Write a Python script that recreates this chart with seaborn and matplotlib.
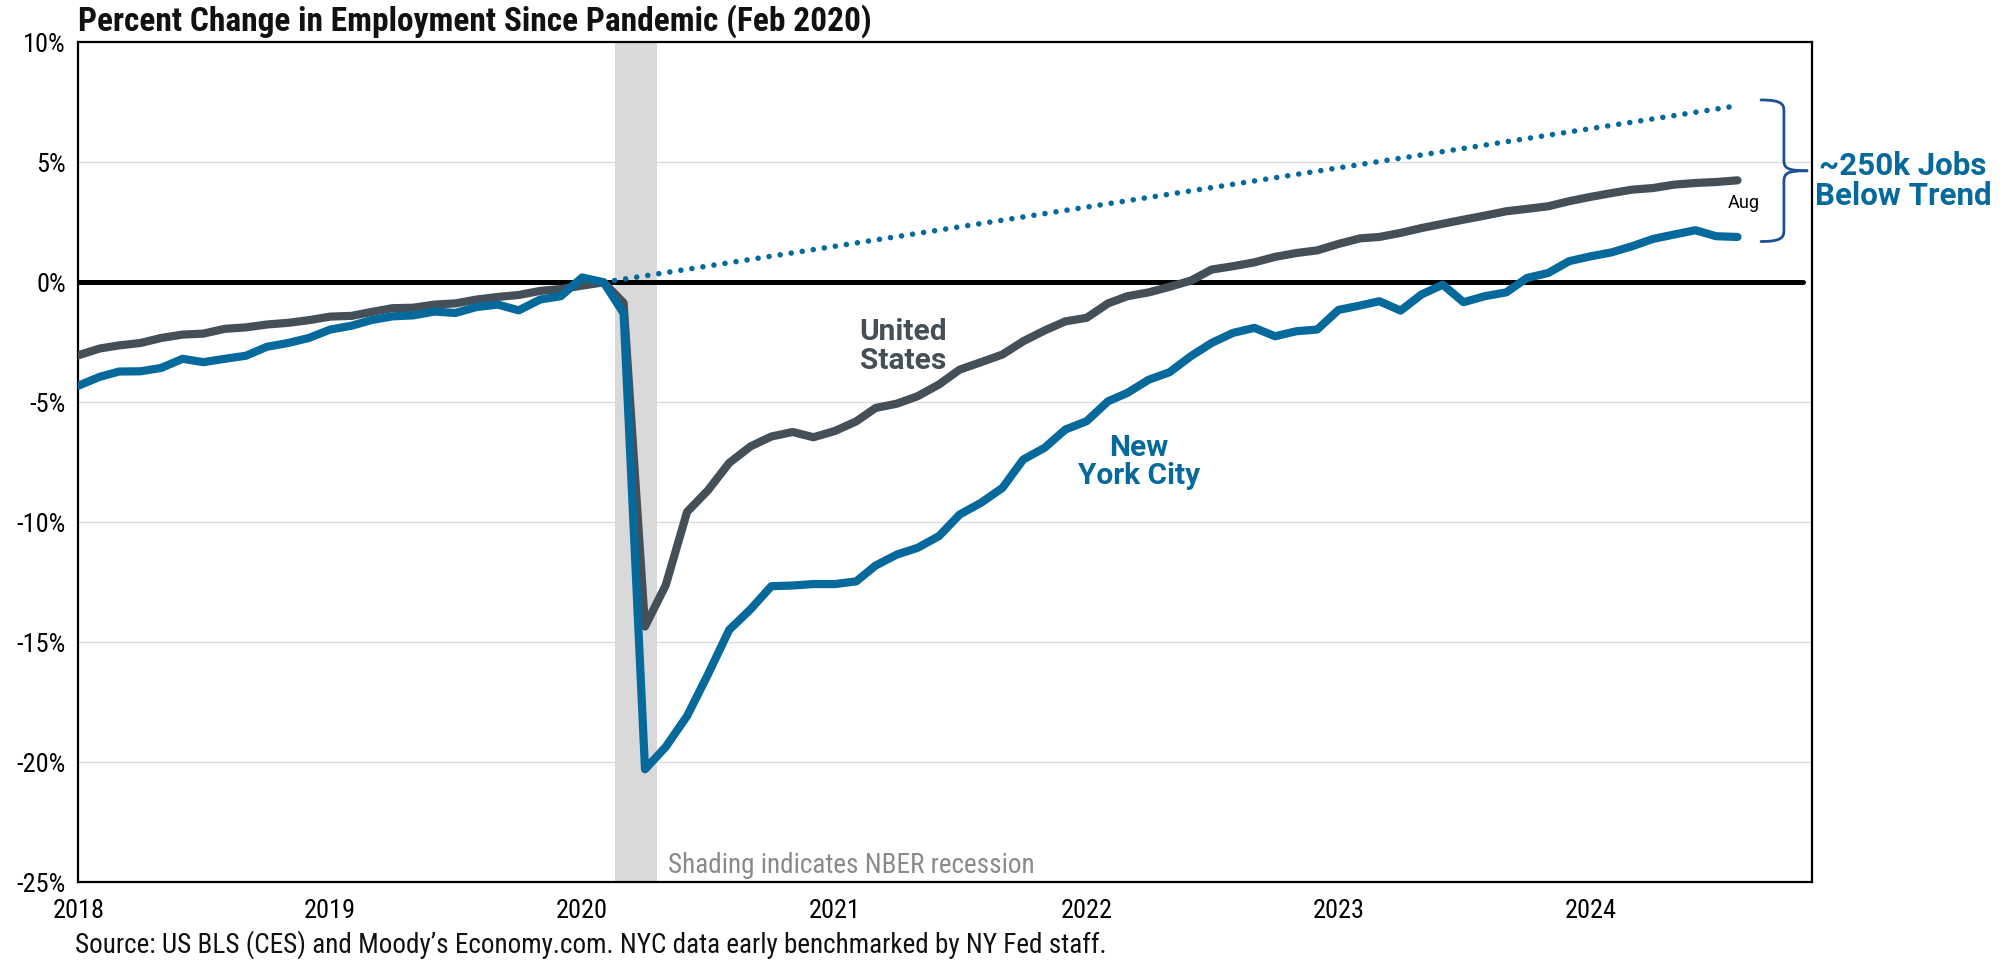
import numpy as np
import pandas as pd
import matplotlib
matplotlib.use("Agg")
import matplotlib.pyplot as plt
import matplotlib.transforms as mtransforms
from matplotlib.path import Path
from matplotlib.patches import PathPatch
from matplotlib import font_manager
import seaborn as sns

# ---------------- data ----------------
months = pd.date_range("2018-01-01", "2024-08-01", freq="MS")

us_pct = [
    -3.04, -2.76, -2.63, -2.53, -2.32, -2.18, -2.14, -1.94, -1.88, -1.76, -1.69, -1.58,
    -1.43, -1.40, -1.24, -1.08, -1.06, -0.93, -0.88, -0.72, -0.61, -0.53, -0.36, -0.28,
    -0.14, 0.00, -0.86, -14.35, -12.63, -9.57, -8.68, -7.53, -6.84, -6.43, -6.24, -6.46,
    -6.20, -5.80, -5.24, -5.06, -4.75, -4.26, -3.64, -3.33, -3.01, -2.46, -2.01, -1.63,
    -1.48, -0.88, -0.58, -0.42, -0.19, 0.07, 0.53, 0.67, 0.83, 1.06, 1.22, 1.33,
    1.60, 1.83, 1.89, 2.06, 2.26, 2.44, 2.61, 2.78, 2.96, 3.06, 3.17, 3.38,
    3.56, 3.72, 3.86, 3.93, 4.07, 4.14, 4.18, 4.25,
]

nyc_pct = [
    -4.31, -3.94, -3.72, -3.71, -3.57, -3.19, -3.33, -3.19, -3.06, -2.69, -2.53, -2.32,
    -1.97, -1.81, -1.58, -1.42, -1.38, -1.22, -1.28, -1.03, -0.93, -1.17, -0.72, -0.58,
    0.20, 0.00, -1.29, -20.30, -19.37, -18.08, -16.36, -14.49, -13.63, -12.67, -12.64, -12.58,
    -12.58, -12.47, -11.81, -11.35, -11.07, -10.58, -9.68, -9.19, -8.57, -7.39, -6.90, -6.14,
    -5.79, -4.96, -4.61, -4.06, -3.75, -3.08, -2.53, -2.11, -1.90, -2.25, -2.04, -1.97,
    -1.15, -0.97, -0.79, -1.18, -0.51, -0.10, -0.83, -0.58, -0.42, 0.18, 0.39, 0.88,
    1.08, 1.25, 1.50, 1.81, 1.99, 2.17, 1.92, 1.89,
]

trend_dates = ["2020-02-01", "2024-08-01"]
trend_pct = [0.0, 7.36]

recession = ["2020-02-18", "2020-04-18"]

y_ticks = [10, 5, 0, -5, -10, -15, -20, -25]
y_labels = ["10%", "5%", "0%", "-5%", "-10%", "-15%", "-20%", "-25%"]
x_years = [2018, 2019, 2020, 2021, 2022, 2023, 2024]

series_names = ["United States", "New York City"]

# ---------------- style ----------------
BLUE = "#05699C"
GRAY = "#454F58"
BRACE = "#1E4F93"

sns.set_theme(style="white")
names = {f.name for f in font_manager.fontManager.ttflist}
cond = "Roboto Condensed" if "Roboto Condensed" in names else "Roboto"
plt.rcParams["font.family"] = ["Roboto", "DejaVu Sans"]
COND = [cond, "Roboto", "DejaVu Sans"]

df = pd.DataFrame({
    "date": list(months) * 2,
    "pct": us_pct + nyc_pct,
    "series": [series_names[0]] * len(months) + [series_names[1]] * len(months),
})

fig = plt.figure(figsize=(20.16, 9.6), dpi=100)
ax = fig.add_axes([78.4 / 2016, 1 - 882 / 960, (1812 - 78.4) / 2016, (882 - 42.4) / 960])

# recession shading
ax.axvspan(pd.Timestamp(recession[0]), pd.Timestamp(recession[1]), color="#D9D9D9", lw=0, zorder=0)

# grid
for t in y_ticks:
    if t not in (0, 10, -25):
        ax.axhline(t, color="#DCDCDC", lw=1.0, zorder=0.5)
ax.axhline(0, xmin=0, xmax=0.995, color="black", lw=3.6, zorder=1, solid_capstyle="round")

sns.lineplot(data=df, x="date", y="pct", hue="series", hue_order=series_names,
             palette={series_names[0]: GRAY, series_names[1]: BLUE},
             linewidth=5.9, legend=False, ax=ax, zorder=3)
for ln in ax.lines[-2:]:
    ln.set_solid_capstyle("round")
    ln.set_solid_joinstyle("round")

ax.plot(pd.to_datetime(trend_dates), trend_pct, color=BLUE, lw=4.0,
        linestyle=(0, (0.01, 2.0)), dash_capstyle="round", zorder=2)

# axes
ax.set_ylim(-25, 10)
ax.set_xlim(pd.Timestamp("2018-01-01"), pd.Timestamp("2024-11-17"))
ax.set_yticks(y_ticks)
ax.set_yticklabels(y_labels)
ax.set_xticks([pd.Timestamp(f"{y}-01-01") for y in x_years])
ax.set_xticklabels([str(y) for y in x_years])
ax.set_xlabel("")
ax.set_ylabel("")
for s in ax.spines.values():
    s.set_visible(True)
    s.set_color("black")
    s.set_linewidth(1.6)
ax.tick_params(axis="both", which="both", direction="out", length=5, width=1.4,
               color="black", labelsize=19, labelcolor="black")
ax.tick_params(axis="x", pad=7)
ax.tick_params(axis="y", pad=4)
for lab in ax.get_xticklabels() + ax.get_yticklabels():
    lab.set_family(COND)

# labels
ax.text(pd.Timestamp("2021-04-10"), -2.68, "United\nStates", color=GRAY, fontsize=21.5,
        fontweight="bold", ha="center", va="center", linespacing=1.02, zorder=4)
ax.text(pd.Timestamp("2022-03-18"), -7.5, "New\nYork City", color=BLUE, fontsize=21.5,
        fontweight="bold", ha="center", va="center", linespacing=1.02, zorder=4)
ax.text(pd.Timestamp("2024-08-10"), 3.32, "Aug", color="black", fontsize=13,
        ha="center", va="center", zorder=4)
ax.text(pd.Timestamp("2020-05-05"), -24.33, "Shading indicates NBER recession",
        color="#8A8A8A", fontsize=19.5, ha="left", va="center", zorder=4, family=COND)

# brace (x in axes fraction, y in data)
trans = mtransforms.blended_transform_factory(ax.transAxes, ax.transData)
xl, xv, xt = 0.9706, 0.9838, 0.9971
yt, yb, ym = 7.6, 1.7, 4.65
c = 0.45
codes = [Path.MOVETO, Path.CURVE4, Path.CURVE4, Path.CURVE4,
         Path.LINETO, Path.CURVE4, Path.CURVE4, Path.CURVE4]
verts = [
    (xl, yt), (xv - 0.002, yt), (xv, yt - 0.15), (xv, yt - c),
    (xv, ym + c), (xv, ym + 0.1), (xv + 0.002, ym), (xt, ym),
]
verts2 = [
    (xl, yb), (xv - 0.002, yb), (xv, yb + 0.15), (xv, yb + c),
    (xv, ym - c), (xv, ym - 0.1), (xv + 0.002, ym), (xt, ym),
]
for vv in (verts, verts2):
    ax.add_patch(PathPatch(Path(vv, codes), transform=trans, fill=False,
                           edgecolor=BRACE, lw=2.0, clip_on=False, zorder=4,
                           capstyle="round", joinstyle="round"))

fig.text(1903 / 2016, 1 - 181 / 960, "~250k Jobs\nBelow Trend", color=BLUE, fontsize=22.5,
         fontweight="bold", ha="center", va="center", linespacing=1.0)

# title and source
fig.text(78 / 2016, 1 - 31 / 960, "Percent Change in Employment Since Pandemic (Feb 2020)",
         fontsize=24, fontweight="bold", color="#111111", ha="left", va="baseline",
         family=COND)
fig.text(75 / 2016, 1 - 945 / 960,
         "Source: US BLS (CES) and Moody\u2019s Economy.com. NYC data early benchmarked by NY Fed staff.",
         fontsize=19.5, color="#111111", ha="left", va="center", family=COND)

fig.savefig("out.png", dpi=100)
